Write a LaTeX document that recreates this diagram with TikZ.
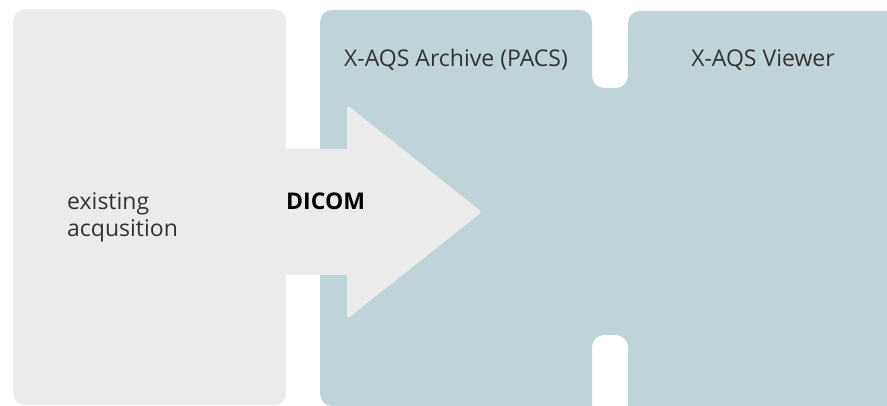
\documentclass[tikz,border=0pt]{standalone}
\usepackage{fontspec}
\setmainfont{Open Sans}
\definecolor{boxgray}{HTML}{EBEBEB}
\definecolor{boxblue}{HTML}{C0D3D8}
\definecolor{labeltext}{HTML}{333333}
\begin{document}
\begin{tikzpicture}[x=1pt,y=-1pt,
  lbl/.style={font=\fontsize{23}{27}\selectfont, text=labeltext, inner sep=0pt, anchor=base},
  boldlbl/.style={font=\fontsize{23}{27}\selectfont\bfseries, text=black, inner sep=0pt, anchor=base west}]
\useasboundingbox (0,0) rectangle (887,406);
\clip (0,0) rectangle (887,406);
% blue combined area
\fill[boxblue, rounded corners=12pt]
  (320,406) -- (320,10) -- (592,10) -- (592,88) -- (628,88) -- (628,11)
  -- (910,11) -- (910,420) -- (628,420) -- (628,335) -- (592,335) -- (592,420)
  -- (330,420) [sharp corners] -- (330,406) [rounded corners=12pt] -- cycle;
% gray box
\node[fill=boxgray, rounded corners=12pt, minimum width=273pt, minimum height=396pt,
      inner sep=0pt, anchor=north west] (acq) at (13,9) {};
% arrow
\fill[boxgray] (280,149) -- (347,149)
  [rounded corners=3pt] -- (347,105) -- (482,212) -- (347,319) [sharp corners] -- (347,275)
  -- (280,275) -- cycle;
% labels
\node[lbl] (pacs) at (456,67) {X-AQS Archive (PACS)};
\node[lbl] (viewer) at (763,67) {X-AQS Viewer};
\node[boldlbl] (dicom) at (286,210) {DICOM};
\node[lbl, anchor=base west] (exist1) at (67,210) {existing};
\node[lbl, anchor=base west] (exist2) at (67,237) {acqusition};
\end{tikzpicture}
\end{document}
